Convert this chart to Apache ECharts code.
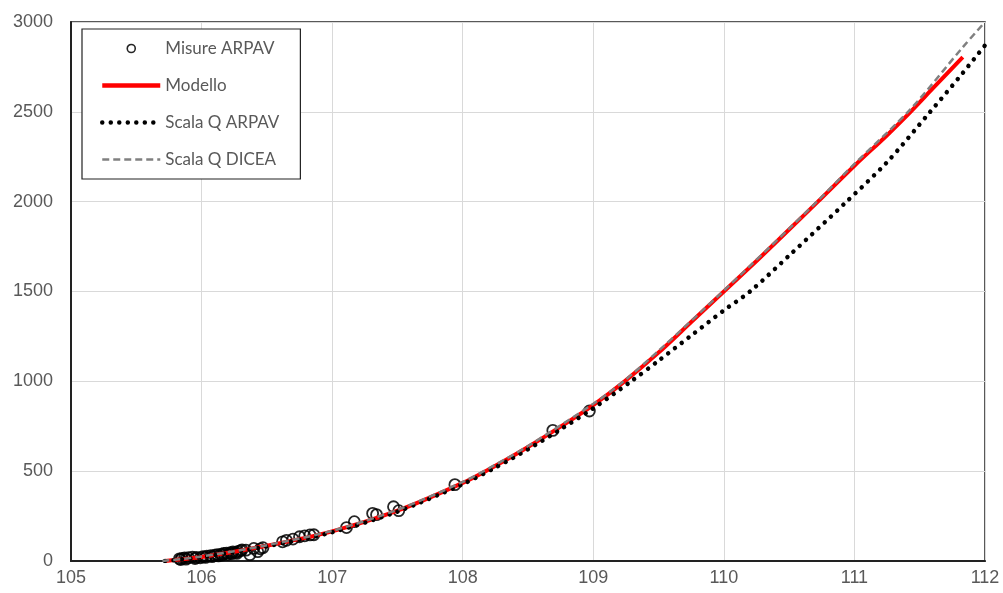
<!DOCTYPE html>
<html><head><meta charset="utf-8">
<script src="https://cdn.jsdelivr.net/npm/echarts@6/dist/echarts.min.js"></script>
<style>html,body{margin:0;padding:0;background:#fff}#c{width:1003px;height:593px}</style>
</head><body><div id="c"></div>
<script>
const seriesNames = ['Misure ARPAV', 'Modello', 'Scala Q ARPAV', 'Scala Q DICEA'];
const xTicks = [105, 106, 107, 108, 109, 110, 111, 112];
const yTicks = [0, 500, 1000, 1500, 2000, 2500, 3000];

const misureARPAV = [
  [105.83,12],[105.84,8],[105.85,15],[105.87,17],[105.88,10],[105.90,18],[105.93,22],[105.95,14],[105.96,20],
  [105.99,18],[106.01,24],[106.03,20],[106.04,27],[106.07,30],[106.08,24],[106.10,32],[106.12,35],[106.13,28],
  [106.15,38],[106.16,33],[106.17,42],[106.19,44],[106.20,36],[106.22,46],[106.23,40],[106.24,50],
  [106.26,48],[106.27,42],[106.28,53],[106.30,58],[106.31,62],[106.34,60],[106.37,35],[106.40,70],[106.43,52],
  [106.45,68],[106.47,74],[106.62,107],[106.65,115],[106.70,122],[106.75,135],[106.79,140],[106.83,145],
  [106.86,146],[107.11,186],[107.17,219],[107.31,265],[107.34,258],[107.47,302],[107.51,280],
  [107.94,425],[108.69,727],[108.97,835]
];
const modello = [
  [105.72,0],[106.0,22],[106.5,85],[107.0,165],[107.5,280],[108.0,435],[108.25,530],[108.5,635],
  [108.75,748],[109.0,868],[109.24,1000],[109.5,1160],[109.75,1330],[110.0,1500],[110.25,1670],
  [110.5,1845],[110.72,2000],[111.0,2200],[111.25,2370],[111.43,2500],[111.6,2630],[111.83,2805]
];
const scalaARPAV = [
  [105.72,0],[106.0,22],[106.5,82],[107.0,160],[107.5,275],[108.0,428],[108.25,520],[108.5,622],
  [108.75,733],[109.0,850],[109.29,1000],[109.5,1115],[109.75,1255],[110.0,1395],[110.2,1500],[110.5,1700],
  [110.94,2000],[111.25,2220],[111.58,2500],[111.8,2690],[112.0,2870]
];
const scalaDICEA = [
  [105.70,0],[106.0,25],[106.5,88],[107.0,168],[107.5,285],[108.0,440],[108.25,536],[108.5,640],
  [109.0,875],[109.24,1005],[109.5,1170],[110.0,1505],[110.5,1850],[110.72,2005],[111.0,2210],
  [111.43,2515],[111.83,2860],[112.0,3000]
];

const chart = echarts.init(document.getElementById('c'));
const labelColor = '#595959';
chart.setOption({
  animation: false,
  backgroundColor: '#fff',
  grid: { left: 71, right: 18, top: 22, bottom: 32, show: true, borderColor: '#222', borderWidth: 1.5, backgroundColor: 'transparent' },
  xAxis: {
    type: 'value', min: xTicks[0], max: xTicks[xTicks.length-1], interval: 1,
    axisLine: { show: true, onZero: false, lineStyle: { color: '#222', width: 2 } },
    axisTick: { show: false },
    axisLabel: { color: labelColor, fontSize: 18, fontFamily: 'Liberation Sans', margin: 8, formatter: v => String(v) },
    splitLine: { show: true, lineStyle: { color: '#d9d9d9', width: 1 } }
  },
  yAxis: {
    type: 'value', min: yTicks[0], max: yTicks[yTicks.length-1], interval: 500,
    axisLine: { show: true, lineStyle: { color: '#222', width: 2 } },
    axisTick: { show: false },
    axisLabel: { color: labelColor, fontSize: 18, fontFamily: 'Liberation Sans', margin: 18, formatter: v => String(v) },
    splitLine: { show: true, lineStyle: { color: '#d9d9d9', width: 1 } }
  },
  legend: {
    orient: 'vertical', left: 82, top: 29,
    padding: [11, 21, 11, 18],
    itemWidth: 58, itemHeight: 8, itemGap: 20,
    backgroundColor: '#fff', borderColor: '#222', borderWidth: 1.2,
    textStyle: { color: labelColor, fontSize: 17, fontFamily: 'Lato' },
    data: [
      { name: seriesNames[0], itemStyle: { borderWidth: 1.6 } },
      { name: seriesNames[1], itemStyle: { opacity: 0 }, lineStyle: { width: 4.5 } },
      { name: seriesNames[2], itemStyle: { opacity: 0 }, lineStyle: { width: 4.5, type: [0.01, 8.5], cap: 'round' } },
      { name: seriesNames[3], itemStyle: { opacity: 0 }, lineStyle: { width: 2.5, type: [7, 4] } }
    ]
  },
  series: [
    { name: seriesNames[0], type: 'scatter', data: misureARPAV, symbol: 'circle', symbolSize: 11, z: 2,
      itemStyle: { color: 'transparent', borderColor: '#000', borderWidth: 1.8, opacity: 0.85 } },
    { name: seriesNames[1], type: 'line', data: modello, showSymbol: false, symbol: 'none', smooth: 0.3, z: 3,
      lineStyle: { color: '#ff0000', width: 4 }, itemStyle: { color: '#ff0000' } },
    { name: seriesNames[2], type: 'line', data: scalaARPAV, showSymbol: false, symbol: 'none', smooth: 0.3, z: 4,
      lineStyle: { color: '#000', width: 4.5, type: [0.01, 8.5], cap: 'round' }, itemStyle: { color: '#000' } },
    { name: seriesNames[3], type: 'line', data: scalaDICEA, showSymbol: false, symbol: 'none', smooth: 0.3, z: 5,
      lineStyle: { color: '#808080', width: 2.5, type: [7, 4] }, itemStyle: { color: '#808080' } }
  ]
});
</script></body></html>
